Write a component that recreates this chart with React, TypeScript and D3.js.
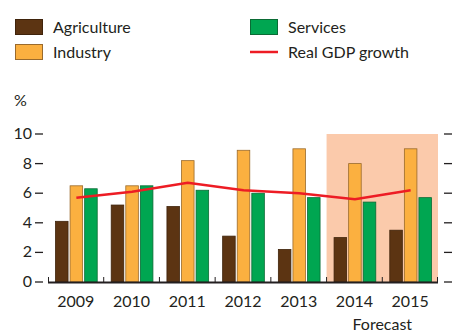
import React from 'react';
import * as d3 from 'd3';

const years = ['2009', '2010', '2011', '2012', '2013', '2014', '2015'];
const agriculture = [4.1, 5.2, 5.1, 3.1, 2.2, 3.0, 3.5];
const industry = [6.5, 6.5, 8.2, 8.9, 9.0, 8.0, 9.0];
const services = [6.3, 6.5, 6.2, 6.0, 5.7, 5.4, 5.7];
const gdpGrowth = [5.7, 6.1, 6.7, 6.2, 6.0, 5.6, 6.2];
const forecastYears = ['2014', '2015'];
const yTicks = [0, 2, 4, 6, 8, 10];

const series = [
  { name: 'Agriculture', values: agriculture, fill: '#5c3412', stroke: '#3f230b' },
  { name: 'Industry', values: industry, fill: '#fbb040', stroke: '#9a6a2c' },
  { name: 'Services', values: services, fill: '#00a651', stroke: '#0b6b35' },
];

const W = 453;
const H = 333;
const font = 'Lato, "Open Sans", sans-serif';
const ink = '#231f20';

export default function App() {
  const x = d3.scaleBand().domain(years).range([48, 438]);
  const y = d3.scaleLinear().domain([0, 10]).range([282, 134]);
  const inner = d3
    .scaleBand()
    .domain(series.map(s => s.name))
    .range([7, x.bandwidth() - 6])
    .paddingInner(0.07);

  const line = d3
    .line<number>()
    .x((_, i) => x(years[i])! + inner('Industry')! + inner.bandwidth() / 2)
    .y(d => y(d));

  const fx0 = x(forecastYears[0])!;
  const fx1 = x(forecastYears[forecastYears.length - 1])! + x.bandwidth();

  return (
    <svg width={W} height={H} style={{ position: 'absolute', left: 0, top: 0, background: '#fff' }}>
      {/* legend */}
      <g fontFamily={font} fontSize={16} fill={ink}>
        <rect x={15.5} y={19.5} width={27} height={15} fill={series[0].fill} stroke={series[0].stroke} />
        <text x={53} y={33}>Agriculture</text>
        <rect x={15.5} y={44.5} width={27} height={15} fill={series[1].fill} stroke={series[1].stroke} />
        <text x={53} y={58}>Industry</text>
        <rect x={250.5} y={19.5} width={27} height={15} fill={series[2].fill} stroke={series[2].stroke} />
        <text x={288} y={33}>Services</text>
        <line x1={250} x2={278} y1={52} y2={52} stroke="#ed1c24" strokeWidth={2.5} />
        <text x={288} y={58}>Real GDP growth</text>
      </g>

      {/* forecast shading */}
      <rect x={fx0} y={y(10)} width={fx1 - fx0} height={y(0) - y(10)} fill="#fbcaab" />

      {/* y axis ticks left and right */}
      <g fontFamily={font} fontSize={16} fill={ink}>
        <text x={14} y={106}>%</text>
        {yTicks.map(t => (
          <g key={t}>
            <text x={32} y={y(t) + 5} textAnchor="end">{t}</text>
            <line x1={35} x2={43} y1={y(t)} y2={y(t)} stroke={ink} strokeWidth={1.3} />
            <line x1={444} x2={452} y1={y(t)} y2={y(t)} stroke={ink} strokeWidth={1.3} />
          </g>
        ))}
      </g>

      {/* bars */}
      {series.map(s => (
        <g key={s.name}>
          {s.values.map((v, i) => (
            <rect
              key={i}
              x={x(years[i])! + inner(s.name)! + 0.5}
              y={y(v)}
              width={inner.bandwidth() - 1}
              height={y(0) - y(v)}
              fill={s.fill}
              stroke={s.stroke}
              strokeWidth={0.8}
            />
          ))}
        </g>
      ))}

      {/* GDP line */}
      <path d={line(gdpGrowth)!} fill="none" stroke="#ed1c24" strokeWidth={2.5} />

      {/* x axis */}
      <line x1={48} x2={438} y1={282.5} y2={282.5} stroke={ink} strokeWidth={2} />
      {years.map((yr, i) => (
        <line
          key={yr}
          x1={x(yr)! + (i === 0 ? 0.5 : 0)}
          x2={x(yr)! + (i === 0 ? 0.5 : 0)}
          y1={277}
          y2={282}
          stroke={ink}
          strokeWidth={1}
        />
      ))}
      <line x1={437.5} x2={437.5} y1={277} y2={282} stroke={ink} strokeWidth={1} />
      <g fontFamily={font} fontSize={16} fill={ink} textAnchor="middle">
        {years.map(yr => (
          <text key={yr} x={x(yr)! + x.bandwidth() / 2} y={307}>{yr}</text>
        ))}
        <text x={fx0 + (fx1 - fx0) / 2} y={330}>Forecast</text>
      </g>
    </svg>
  );
}
